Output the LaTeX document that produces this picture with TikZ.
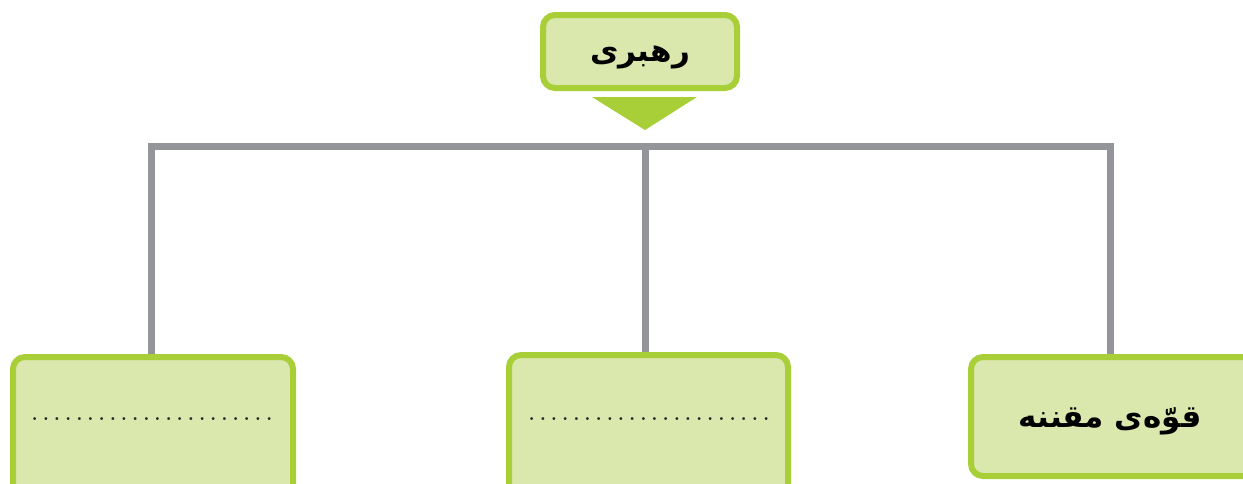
\documentclass[tikz,border=0pt]{standalone}
\usepackage{fontspec}
\newfontfamily\arabicfont[Script=Arabic]{DejaVu Sans}
\TeXXeTstate=1
\definecolor{gstroke}{HTML}{A8CF38}
\definecolor{gfill}{HTML}{DAE7AD}
\definecolor{lgray}{HTML}{939598}
\newcommand{\dotsp}{.\kern4.9pt}
\newcommand{\dotrow}{\dotsp\dotsp\dotsp\dotsp\dotsp\dotsp\dotsp\dotsp\dotsp\dotsp\dotsp\dotsp\dotsp\dotsp\dotsp\dotsp\dotsp\dotsp\dotsp\dotsp\dotsp.}
\begin{document}
\begin{tikzpicture}[x=1pt,y=-1pt,
  gbox/.style={draw=gstroke,fill=gfill,line width=6pt,rounded corners=12pt},
  conn/.style={draw=lgray,line width=7pt},
  lbl/.style={font=\arabicfont\bfseries\fontsize{31}{36}\selectfont,text=black},
  dotlbl/.style={font=\bfseries\fontsize{20}{20}\selectfont,text=black!85}]
\useasboundingbox (0,0) rectangle (1243,483);
% top box
\draw[gbox] (543,15) rectangle (737,88);
\node[lbl] (top) at (640,57) {\beginR رهبری\endR};
\fill[gstroke] (592,97) -- (697,97) -- (645,130) -- cycle;
% connectors
\coordinate (hl) at (151,146);
\coordinate (hm) at (645,146);
\coordinate (hr) at (1110,146);
\coordinate (bl) at (151,355);
\coordinate (bm) at (645,353);
\coordinate (br) at (1110,356);
\draw[conn] (bl) -- (hl) -- (hr) -- (br);
\draw[conn] (hm) -- (bm);
% bottom boxes
\draw[gbox] (13,357) rectangle (293,500);
\draw[gbox] (509,355) rectangle (788,500);
\draw[gbox] (971,357) rectangle (1256,476);
\node[dotlbl] (dl) at (152,419) {\dotrow};
\node[dotlbl] (dm) at (649,419) {\dotrow};
\node[lbl] (right) at (1110,421) {\beginR قوّه‌ی مقننه\endR};
\end{tikzpicture}
\end{document}
